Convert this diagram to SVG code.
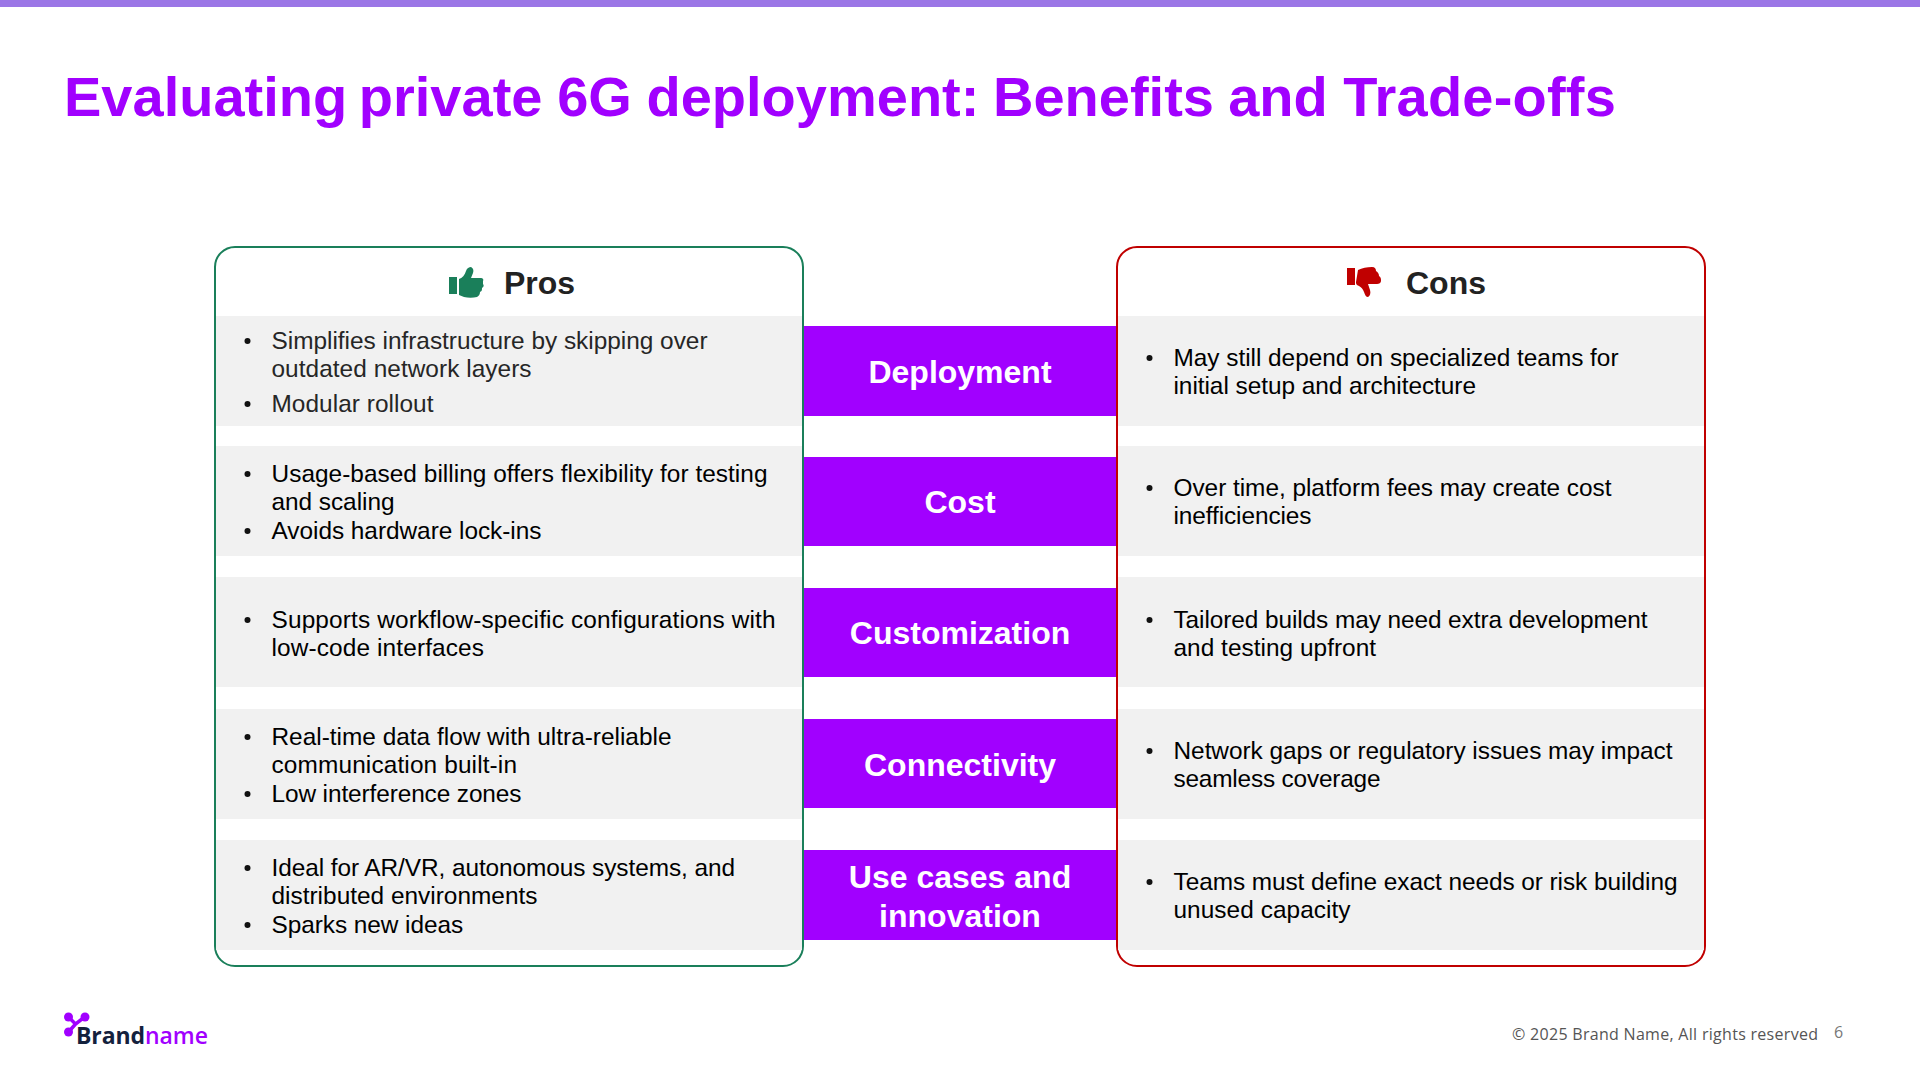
<svg xmlns="http://www.w3.org/2000/svg" width="1920" height="1080" viewBox="0 0 1920 1080">
<style>
text{font-family:"Liberation Sans",Arial,sans-serif}
.t{font-size:24.4px;fill:#000}
.g{fill:#262626}
.h{font-size:32px;font-weight:700;fill:#222}
.l{font-size:32px;font-weight:700;fill:#fff;text-anchor:middle}
.r{fill:#f1f1f1}
.p{fill:#a100ff}
.f{font-family:"Open Sans","Noto Sans",sans-serif;font-size:16px;fill:#555}
</style>
<rect width="1920" height="1080" fill="#fff"/>
<rect width="1920" height="7" fill="#9b76e6"/>
<text x="64" y="116" font-size="56" font-weight="700" fill="#a100ff">Evaluating <tspan x="358.8">private</tspan> <tspan x="557.2">6G</tspan> <tspan x="646.5">deployment:</tspan> <tspan x="993">Benefits</tspan> <tspan x="1228.2">and</tspan> <tspan x="1343.3" letter-spacing="0.2">Trade-offs</tspan></text>
<g id="pros">
<rect x="215" y="247" width="588" height="719" rx="20" fill="#fff" stroke="#1a7f5a" stroke-width="2"/>
<rect class="r" x="216" y="316" width="586" height="110"/><rect class="r" x="216" y="446" width="586" height="110"/><rect class="r" x="216" y="577" width="586" height="110"/><rect class="r" x="216" y="709" width="586" height="110"/><rect class="r" x="216" y="840" width="586" height="110"/>
<path fill="#1a7f5a" d="M449 277h8v17h-8zM459 279c3-1 6-4 7-8 1-3 3-4 5-4 2 1 3 3 2 6l-2 5h10c2 0 3 2 2 3v3c1 1 1 3-1 4 0 2 0 3-2 4 0 2-1 4-3 5-4 1-9 1-13 0l-5-2z"/>
<text class="h" x="504" y="294">Pros</text>
<text class="t g" x="271.5" y="349" textLength="436">Simplifies infrastructure by skipping over</text><text class="t g" x="271.5" y="377" textLength="260">outdated network layers</text><text class="t g" x="271.5" y="412" textLength="162">Modular rollout</text>
<text class="t" x="271.5" y="482" textLength="496">Usage-based billing offers flexibility for testing</text><text class="t" x="271.5" y="510" textLength="123">and scaling</text><text class="t" x="271.5" y="539" textLength="270">Avoids hardware lock-ins</text>
<text class="t" x="271.5" y="628" textLength="504">Supports workflow-specific configurations with</text><text class="t" x="271.5" y="656" textLength="212.5">low-code interfaces</text>
<text class="t" x="271.5" y="745" textLength="400">Real-time data flow with ultra-reliable</text><text class="t" x="271.5" y="773" textLength="245.5">communication built-in</text><text class="t" x="271.5" y="802" textLength="250">Low interference zones</text>
<text class="t" x="271.5" y="876" textLength="463.5">Ideal for AR/VR, autonomous systems, and</text><text class="t" x="271.5" y="904" textLength="266">distributed environments</text><text class="t" x="271.5" y="933" textLength="191.6">Sparks new ideas</text>
<g fill="#111"><circle cx="247.5" cy="341" r="3"/><circle cx="247.5" cy="404" r="3"/><circle cx="247.5" cy="474" r="3"/><circle cx="247.5" cy="531" r="3"/><circle cx="247.5" cy="620" r="3"/><circle cx="247.5" cy="737" r="3"/><circle cx="247.5" cy="794" r="3"/><circle cx="247.5" cy="868" r="3"/><circle cx="247.5" cy="925" r="3"/></g>
</g>
<g id="cons">
<rect x="1117" y="247" width="588" height="719" rx="20" fill="#fff" stroke="#c00000" stroke-width="2"/>
<rect class="r" x="1118" y="316" width="586" height="110"/><rect class="r" x="1118" y="446" width="586" height="110"/><rect class="r" x="1118" y="577" width="586" height="110"/><rect class="r" x="1118" y="709" width="586" height="110"/><rect class="r" x="1118" y="840" width="586" height="110"/>
<path fill="#c00000" d="M1347 268h8v17h-8zM1358 270c4-2 9-3 14-3 3 0 4 2 4 4 2 1 3 3 3 5 2 1 2 3 2 5 0 2-2 3-4 3h-9l2 6c1 3 0 6-2 7-2 0-3-2-4-5-1-3-3-5-5-6l-2-1c-1-1-1-2-1-3z"/>
<text class="h" x="1406" y="294">Cons</text>
<text class="t" x="1173.5" y="366" textLength="445">May still depend on specialized teams for</text><text class="t" x="1173.5" y="394" textLength="302.5">initial setup and architecture</text>
<text class="t" x="1173.5" y="496" textLength="438">Over time, platform fees may create cost</text><text class="t" x="1173.5" y="524" textLength="138">inefficiencies</text>
<text class="t" x="1173.5" y="628" textLength="474">Tailored builds may need extra development</text><text class="t" x="1173.5" y="656" textLength="202.6">and testing upfront</text>
<text class="t" x="1173.5" y="759" textLength="499">Network gaps or regulatory issues may impact</text><text class="t" x="1173.5" y="787" textLength="207">seamless coverage</text>
<text class="t" x="1173.5" y="890" textLength="504">Teams must define exact needs or risk building</text><text class="t" x="1173.5" y="918" textLength="177">unused capacity</text>
<g fill="#111"><circle cx="1149.5" cy="358" r="3"/><circle cx="1149.5" cy="488" r="3"/><circle cx="1149.5" cy="620" r="3"/><circle cx="1149.5" cy="751" r="3"/><circle cx="1149.5" cy="882" r="3"/></g>
</g>
<g id="deployment"><rect class="p" x="804" y="326" width="312" height="90"/><text class="l" x="960" y="383">Deployment</text></g>
<g id="cost"><rect class="p" x="804" y="457" width="312" height="89"/><text class="l" x="960" y="513">Cost</text></g>
<g id="customization"><rect class="p" x="804" y="588" width="312" height="89"/><text class="l" x="960" y="644">Customization</text></g>
<g id="connectivity"><rect class="p" x="804" y="719" width="312" height="89"/><text class="l" x="960" y="776">Connectivity</text></g>
<g id="usecases"><rect class="p" x="804" y="850" width="312" height="90"/><text class="l" x="960" y="888">Use cases and</text><text class="l" x="960" y="927">innovation</text></g>
<g id="logo">
<path d="M68.500 1017L75.500 1024M84.500 1017L75.500 1024L68.500 1032" stroke="#a100ff" stroke-width="3.500" fill="none"/>
<circle cx="68.500" cy="1017" r="4.500" fill="#a100ff"/><circle cx="85" cy="1017" r="4.500" fill="#a100ff"/><circle cx="68.500" cy="1032" r="4.500" fill="#a100ff"/>
<text x="76" y="1044" font-size="23" textLength="132" style="font-family:'Open Sans','Noto Sans',sans-serif"><tspan fill="#14213d" font-weight="700">Brand</tspan><tspan fill="#a100ff" font-weight="600">name</tspan></text>
</g>
<text class="f" x="1512" y="1040" textLength="306">© 2025 Brand Name, All rights reserved</text>
<text class="f" x="1834" y="1038" style="fill:#777">6</text>
</svg>
